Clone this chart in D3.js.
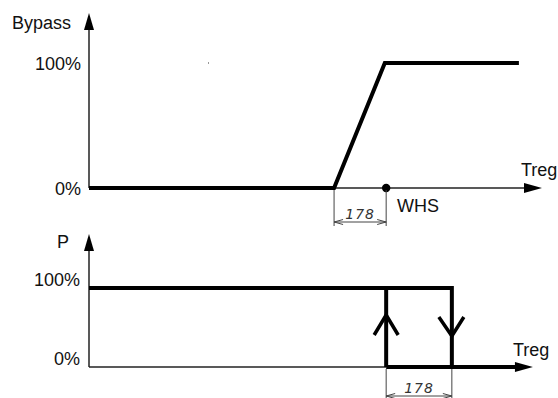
<!DOCTYPE html>
<html><head><meta charset="utf-8">
<script src="https://cdn.jsdelivr.net/npm/d3@7"></script>
<style>body{margin:0;background:#fff}svg{display:block}</style>
</head><body>
<script>
// ---- data (Treg in abstract units 0..100, outputs in %) ----
const bypassTreg = [0, 54.1, 65.3, 94.9];
const bypassPct  = [0, 0, 100, 100];
const whsTreg = 65.6;
const pUpTreg = 65.6;     // P switches on (rising)
const pDownTreg = 80.1;   // P switches off
const pathP = [[0,100],[80.1,100],[80.1,0]];
const pOnLine = [[65.6,0],[65.6,100]];
const pLow = [[65.6,0],[98,0]];
const yTicks = [0, 100];
const tickLabels = ["0%", "100%"];
const hystLabel = "178";

const W = 558, H = 398;
const svg = d3.select("body").append("svg").attr("width", W).attr("height", H);
const font = "Liberation Sans, Arial, sans-serif";

const x = d3.scaleLinear().domain([0,100]).range([89,542]);
const yTop = d3.scaleLinear().domain([0,100]).range([188,63]);
const yBot = d3.scaleLinear().domain([0,100]).range([367,288]);

function arrowUp(g, cx, tipY){
  g.append("path").attr("d", `M${cx},${tipY} L${cx-5},${tipY+17} L${cx+5},${tipY+17} Z`).attr("fill","#000");
}
function arrowRight(g, tipX, cy){
  g.append("path").attr("d", `M${tipX},${cy} L${tipX-18},${cy-5} L${tipX-18},${cy+5} Z`).attr("fill","#000");
}
const line = (ys) => d3.line().x(d=>x(d[0])).y(d=>ys(d[1]));

function dimension(g, x1, x2, y0, yLine, yEnd, labelY){
  const c = "#444";
  g.append("line").attr("x1",x1).attr("x2",x1).attr("y1",y0).attr("y2",yEnd).attr("stroke",c).attr("stroke-width",1);
  g.append("line").attr("x1",x2).attr("x2",x2).attr("y1",y0).attr("y2",yEnd).attr("stroke",c).attr("stroke-width",1);
  g.append("line").attr("x1",x1).attr("x2",x2).attr("y1",yLine).attr("y2",yLine).attr("stroke",c).attr("stroke-width",1);
  g.append("path").attr("d",`M${x1+9},${yLine-2.5} L${x1},${yLine} L${x1+9},${yLine+2.5}`).attr("fill","none").attr("stroke",c).attr("stroke-width",1);
  g.append("path").attr("d",`M${x2-9},${yLine-2.5} L${x2},${yLine} L${x2-9},${yLine+2.5}`).attr("fill","none").attr("stroke",c).attr("stroke-width",1);
  g.append("text").attr("x",(x1+x2)/2).attr("y",labelY).attr("text-anchor","middle")
    .attr("font-family","DejaVu Sans, sans-serif").attr("font-style","italic").attr("font-size",14)
    .attr("fill","#333").attr("letter-spacing",1).text(hystLabel);
}

// ---------- TOP CHART ----------
const gt = svg.append("g");
gt.append("line").attr("x1",x(0)).attr("x2",x(0)).attr("y1",yTop(0)).attr("y2",28).attr("stroke","#222").attr("stroke-width",1.5);
arrowUp(gt, x(0), 13);
gt.append("line").attr("x1",x(0)).attr("x2",525).attr("y1",yTop(0)).attr("y2",yTop(0)).attr("stroke","#222").attr("stroke-width",1.5);
arrowRight(gt, 542, yTop(0));
gt.append("path").datum(bypassTreg.map((t,i)=>[t,bypassPct[i]])).attr("d",line(yTop))
  .attr("fill","none").attr("stroke","#000").attr("stroke-width",4).attr("stroke-linejoin","miter");
gt.append("circle").attr("cx",x(whsTreg)).attr("cy",yTop(0)).attr("r",4.2).attr("fill","#000");
dimension(gt, x(bypassTreg[1]), x(whsTreg), yTop(0)+2, 222, 226, 219);
yTicks.forEach((v,i)=>{
  gt.append("text").attr("x",81).attr("y",yTop(v)+6.5).attr("text-anchor","end")
    .attr("font-family",font).attr("font-size",18).attr("fill","#111").text(tickLabels[i]);
});
gt.append("text").attr("x",71).attr("y",29).attr("text-anchor","end").attr("font-family",font).attr("font-size",18).attr("fill","#111").text("Bypass");
gt.append("text").attr("x",521).attr("y",176).attr("font-family",font).attr("font-size",18).attr("fill","#111").text("Treg");
gt.append("text").attr("x",397).attr("y",212).attr("font-family",font).attr("font-size",18).attr("fill","#111").text("WHS");
gt.append("rect").attr("x",208).attr("y",62).attr("width",1).attr("height",2).attr("fill","#999");

// ---------- BOTTOM CHART ----------
const gb = svg.append("g");
gb.append("line").attr("x1",x(0)).attr("x2",x(0)).attr("y1",yBot(0)).attr("y2",250).attr("stroke","#222").attr("stroke-width",1.5);
arrowUp(gb, x(0), 234);
gb.append("line").attr("x1",x(0)).attr("x2",x(pUpTreg)).attr("y1",yBot(0)).attr("y2",yBot(0)).attr("stroke","#222").attr("stroke-width",1.5);
gb.append("path").datum(pLow.map(d=>[d[0]-0,d[1]])).attr("d", d3.line().x(d=>x(d[0])).y(d=>yBot(d[1]))([[pLow[0][0],0],[96,0]]))
  .attr("fill","none").attr("stroke","#000").attr("stroke-width",4);
arrowRight(gb, x(pLow[1][0]), yBot(0));
gb.append("path").datum(pathP).attr("d",line(yBot)).attr("fill","none").attr("stroke","#000").attr("stroke-width",4).attr("stroke-linejoin","miter");
gb.append("path").datum(pOnLine).attr("d",line(yBot)).attr("fill","none").attr("stroke","#000").attr("stroke-width",4);
// direction chevrons
const ux = x(pUpTreg), dx = x(pDownTreg);
gb.append("path").attr("d",`M${ux-12},335 L${ux},315 L${ux+12},335`).attr("fill","none").attr("stroke","#000").attr("stroke-width",3.5).attr("stroke-linejoin","miter");
gb.append("path").attr("d",`M${dx-13},317 L${dx},336 L${dx+12},317`).attr("fill","none").attr("stroke","#000").attr("stroke-width",3.5).attr("stroke-linejoin","miter");
dimension(gb, ux, dx, yBot(0)+2, 396, 400, 393);
yTicks.forEach((v,i)=>{
  gb.append("text").attr("x",80).attr("y",yBot(v)-2).attr("text-anchor","end")
    .attr("font-family",font).attr("font-size",18).attr("fill","#111").text(tickLabels[i]);
});
gb.append("text").attr("x",57).attr("y",248).attr("font-family",font).attr("font-size",18).attr("fill","#111").text("P");
gb.append("text").attr("x",513).attr("y",356).attr("font-family",font).attr("font-size",18).attr("fill","#111").text("Treg");
</script>
</body></html>
